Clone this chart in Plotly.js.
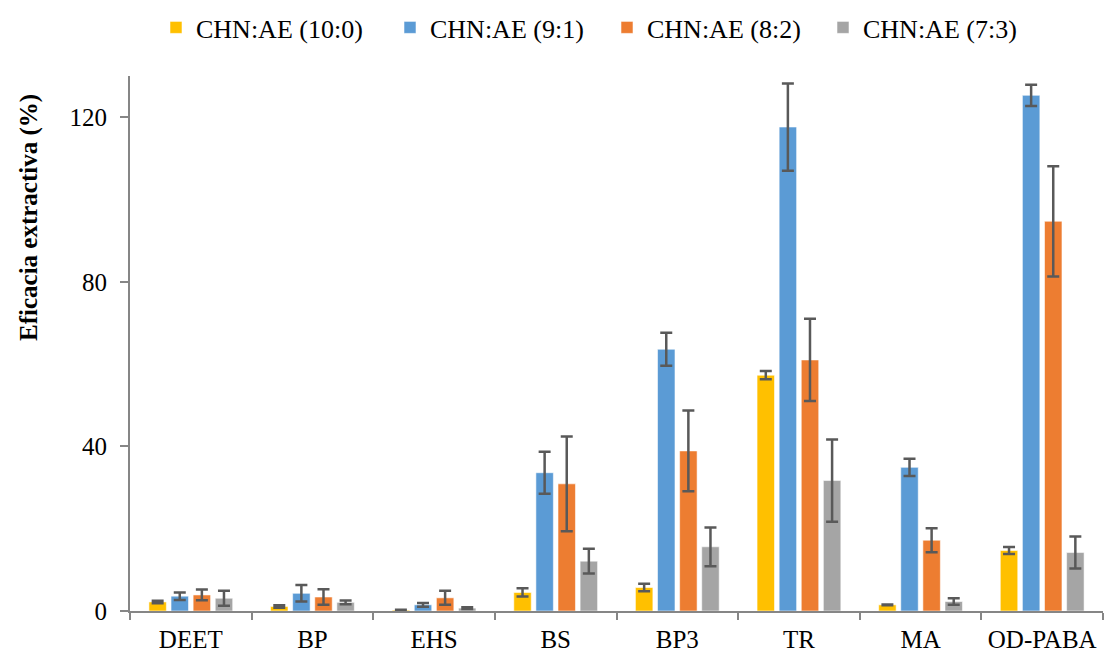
<!DOCTYPE html>
<html>
<head>
<meta charset="utf-8">
<script src="https://cdn.plot.ly/plotly-3.0.1.min.js"></script>
<style>html,body{margin:0;padding:0;background:#fff;}#chart{width:1104px;height:653px;}</style>
</head>
<body>
<div id="chart"></div>
<script>
const categories = ["DEET", "BP", "EHS", "BS", "BP3", "TR", "MA", "OD-PABA"];
const seriesNames = ["CHN:AE (10:0)", "CHN:AE (9:1)", "CHN:AE (8:2)", "CHN:AE (7:3)"];
const s100 = [2.2, 1.1, 0.2, 4.5, 5.7, 57.3, 1.5, 14.7];
const s100err = [0.3, 0.3, 0.1, 1.0, 0.9, 1.0, 0.1, 0.85];
const s91 = [3.6, 4.3, 1.5, 33.6, 63.6, 117.6, 34.9, 125.3];
const s91err = [0.9, 2.0, 0.45, 5.1, 4.0, 10.6, 2.1, 2.6];
const s82 = [3.9, 3.4, 3.2, 30.9, 38.9, 61.0, 17.2, 94.7];
const s82err = [1.3, 1.9, 1.7, 11.5, 9.8, 10.0, 2.9, 13.4];
const s73 = [3.1, 2.1, 0.7, 12.1, 15.6, 31.7, 2.3, 14.2];
const s73err = [1.8, 0.45, 0.2, 3.0, 4.7, 10.0, 0.8, 3.9];
const yTicks = [0, 40, 80, 120];
const yTitle = "Eficacia extractiva (%)";

const colors = ["#FFC000", "#5B9BD5", "#ED7D31", "#A5A5A5"];
const values = [s100, s91, s82, s73];
const errs = [s100err, s91err, s82err, s73err];
const legendIds = ["legend", "legend2", "legend3", "legend4"];
const legendLeft = [156, 390, 607, 823];

const font = "Liberation Serif, Times New Roman, serif";

const traces = values.map((v, i) => ({
  type: "bar",
  name: seriesNames[i],
  legend: legendIds[i],
  x: categories,
  y: v,
  marker: {color: colors[i], line: {color: "rgba(255,255,255,0.55)", width: 1}},
  error_y: {type: "data", array: errs[i], visible: true, color: "#595959", thickness: 2.5, width: 6},
  hoverinfo: "x+y"
}));

const layout = {
  width: 1104, height: 653,
  margin: {l: 130, r: 1, t: 76, b: 42},
  paper_bgcolor: "#fff", plot_bgcolor: "#fff",
  barmode: "group",
  bargap: 0.273,
  bargroupgap: 0.21,
  font: {family: font, color: "#000", size: 25},
  showlegend: true,
  xaxis: {
    type: "category",
    showline: true, linecolor: "#868686", linewidth: 2,
    ticks: "outside", tickson: "boundaries", ticklen: 7, tickwidth: 2, tickcolor: "#868686",
    showgrid: false, zeroline: false,
    tickfont: {family: font, size: 25, color: "#000"},
    ticklabelstandoff: 5
  },
  yaxis: {
    range: [0, 130],
    tickvals: yTicks,
    ticktext: yTicks.map(String),
    showline: true, linecolor: "#868686", linewidth: 2,
    ticks: "outside", ticklen: 8, tickwidth: 2, tickcolor: "#868686",
    showgrid: false, zeroline: false,
    tickfont: {family: font, size: 25, color: "#000"},
    ticklabelstandoff: 8
  },
  annotations: [{
    text: "<b>" + yTitle + "</b>",
    xref: "paper", yref: "paper",
    x: -0.1038, y: 0.7346,
    xanchor: "center", yanchor: "middle",
    textangle: -90,
    showarrow: false,
    font: {family: font, size: 25, color: "#000"}
  }]
};

legendIds.forEach((id, i) => {
  layout[id] = {
    orientation: "h",
    xref: "container", yref: "container",
    x: legendLeft[i] / 1104, xanchor: "left",
    y: 1 - 4 / 653, yanchor: "top",
    font: {family: font, size: 26, color: "#000"},
    bgcolor: "rgba(0,0,0,0)",
    itemwidth: 30
  };
});

Plotly.newPlot("chart", traces, layout, {displayModeBar: false, responsive: false});
</script>
</body>
</html>
